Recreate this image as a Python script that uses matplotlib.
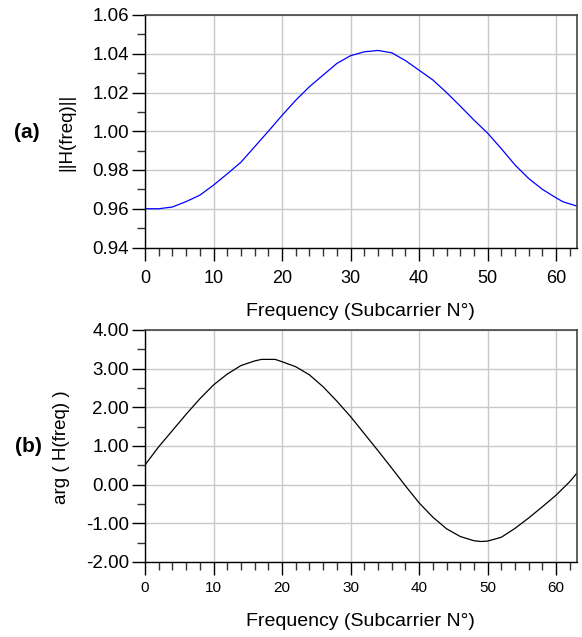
import matplotlib
matplotlib.use("Agg")
import matplotlib.pyplot as plt
from matplotlib.ticker import MultipleLocator, FormatStrFormatter

plt.rcParams['font.family'] = ['Liberation Sans', 'DejaVu Sans']

# Panel (a): magnitude
mag_x = [0, 2, 4, 6, 8, 10, 12, 14, 16, 18, 20, 22, 24, 26, 28, 30, 32, 34, 36,
         38, 40, 42, 44, 46, 48, 50, 52, 54, 56, 58, 60, 61, 63]
mag_y = [0.960, 0.960, 0.9609, 0.9637, 0.967, 0.9722, 0.978, 0.984, 0.9920,
         1.0000, 1.0082, 1.016, 1.023, 1.029, 1.035, 1.039, 1.0410, 1.0417, 1.0405,
         1.0365, 1.0315, 1.0265, 1.0200, 1.013, 1.0058, 0.999, 0.991, 0.9826,
         0.9756, 0.970, 0.9656, 0.9636, 0.9614]

# Panel (b): phase
ph_x = [0, 2, 4, 6, 8, 10, 12, 14, 16, 17, 19, 20, 22, 24, 26, 28, 30, 32, 34, 36,
        38, 40, 42, 44, 46, 48, 49, 50, 52, 54, 56, 58, 60, 62, 63]
ph_y = [0.51, 0.98, 1.40, 1.82, 2.22, 2.58, 2.86, 3.08, 3.20, 3.24, 3.24, 3.18, 3.05,
        2.84, 2.53, 2.16, 1.76, 1.32, 0.88, 0.43, -0.03, -0.47, -0.84, -1.14, -1.34,
        -1.45, -1.47, -1.46, -1.36, -1.13, -0.86, -0.57, -0.27, 0.08, 0.29]

xlabel = "Frequency (Subcarrier N°)"
ylabel_a = "||H(freq)||"
ylabel_b = "arg ( H(freq) )"

fig = plt.figure(figsize=(5.82, 6.37), dpi=100)
W, H = 582, 637

def make_ax(top_px, bot_px):
    left, right = 145, 576.7
    return fig.add_axes([left / W, 1 - bot_px / H, (right - left) / W, (bot_px - top_px) / H])

ax1 = make_ax(15, 247.5)
ax2 = make_ax(330, 562)

def style(ax, xtick_size, ytick_size, xpad):
    ax.set_xlim(0, 63)
    ax.xaxis.set_major_locator(MultipleLocator(10))
    ax.xaxis.set_minor_locator(MultipleLocator(2))
    ax.grid(True, which='major', color='#c8c8c8', linewidth=1.0)
    ax.set_axisbelow(True)
    ax.tick_params(which='major', direction='out', length=9.5, width=1.0, color='black')
    ax.tick_params(which='minor', direction='out', length=5.5, width=1.0, color='#333333')
    ax.tick_params(axis='x', which='both', top=False, pad=xpad, labelsize=xtick_size)
    ax.tick_params(axis='y', which='both', right=False, pad=2, labelsize=ytick_size)
    for s in ['left', 'bottom']:
        ax.spines[s].set_color('black')
        ax.spines[s].set_linewidth(1.0)
    for s in ['top', 'right']:
        ax.spines[s].set_color('#444444')
        ax.spines[s].set_linewidth(1.2)

ax1.plot(mag_x, mag_y, color='#0000ff', linewidth=0.9)
ax1.set_ylim(0.94, 1.06)
ax1.yaxis.set_major_locator(MultipleLocator(0.02))
ax1.yaxis.set_minor_locator(MultipleLocator(0.01))
ax1.yaxis.set_major_formatter(FormatStrFormatter('%.2f'))
style(ax1, 13, 13.5, 6.5)

ax2.plot(ph_x, ph_y, color='black', linewidth=0.9)
ax2.set_ylim(-2.0, 4.0)
ax2.yaxis.set_major_locator(MultipleLocator(1.0))
ax2.yaxis.set_minor_locator(MultipleLocator(0.5))
ax2.yaxis.set_major_formatter(FormatStrFormatter('%.2f'))
style(ax2, 11, 13.5, 4)

def ftext(x, y, s, **kw):
    fig.text(x / W, 1 - y / H, s, ha='center', va='center', **kw)

ftext(360, 311, xlabel, fontsize=14)
ftext(360, 621, xlabel, fontsize=14)
ftext(67, 132, ylabel_a, fontsize=13.5, rotation=90)
ftext(61, 447, ylabel_b, fontsize=13.5, rotation=90)
ftext(27, 132, "(a)", fontsize=15, fontweight='bold')
ftext(28, 447, "(b)", fontsize=15, fontweight='bold')

fig.savefig("out.png", dpi=100)
